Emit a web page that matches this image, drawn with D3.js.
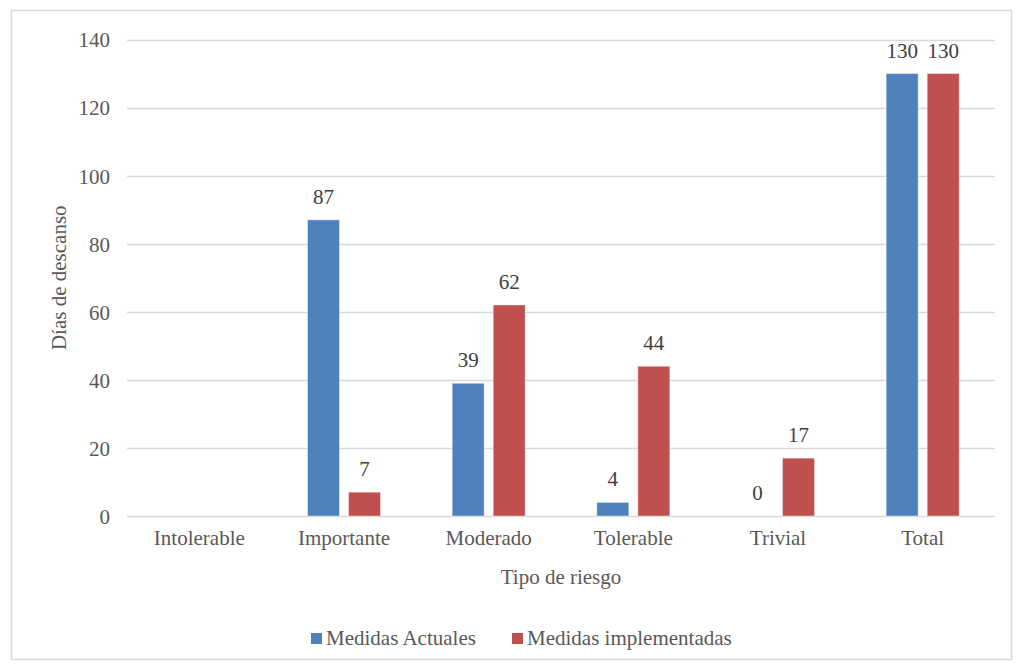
<!DOCTYPE html>
<html><head><meta charset="utf-8">
<script src="https://cdn.jsdelivr.net/npm/d3@7"></script>
<style>body{margin:0;background:#fff}svg{display:block}text{font-family:"Liberation Serif","Times New Roman",serif}</style>
</head><body><svg id="c" width="1018" height="664"></svg>
<script>
const categories = ["Intolerable","Importante","Moderado","Tolerable","Trivial","Total"];
const seriesNames = ["Medidas Actuales","Medidas implementadas"];
const actuales = [null, 87, 39, 4, 0, 130];
const implementadas = [null, 7, 62, 44, 17, 130];
const yTicks = [0,20,40,60,80,100,120,140];
const colors = ["#4F81BD","#C0504D"];

const svg = d3.select("#c");
const m = {l:127, r:995, t:39.5, b:516};
const txt = "#595959";
const fs = 21;

svg.append("rect").attr("x",11.5).attr("y",10.5).attr("width",1000).attr("height",649)
  .attr("fill","#fff").attr("stroke","#d9d9d9").attr("stroke-width",1.5);

const x0 = d3.scaleBand().domain(categories).range([m.l,m.r]).paddingInner(0).paddingOuter(0);
const x1 = d3.scaleBand().domain(seriesNames).range([0,x0.bandwidth()]).paddingInner(0.22).paddingOuter(0.873);
const y = d3.scaleLinear().domain([0,140]).range([m.b,m.t]);

// gridlines
svg.append("g").selectAll("line").data(yTicks).join("line")
  .attr("x1",m.l).attr("x2",m.r).attr("y1",d=>Math.round(y(d))+0.5).attr("y2",d=>Math.round(y(d))+0.5)
  .attr("stroke","#d9d9d9").attr("stroke-width",1.5);

// y axis labels
const yAxis = d3.axisLeft(y).tickValues(yTicks).tickSize(0).tickPadding(0);
const ya = svg.append("g").attr("transform",`translate(${110},0)`).call(yAxis);
ya.select(".domain").remove();
ya.selectAll("text").attr("font-size",fs).attr("fill",txt).attr("dy","0.35em");

// x axis labels
const xAxis = d3.axisBottom(x0).tickSize(0).tickPadding(0);
const xa = svg.append("g").attr("transform",`translate(0,${m.b+29})`).call(xAxis);
xa.select(".domain").remove();
xa.selectAll("text").attr("font-size",fs).attr("fill",txt).attr("dy","0");

const data = categories.map((c,i)=>({c, vals:[actuales[i],implementadas[i]]}));
const groups = svg.append("g").selectAll("g").data(data).join("g")
  .attr("transform",d=>`translate(${x0(d.c)},0)`);
groups.selectAll("rect").data(d=>d.vals.map((v,j)=>({v,s:seriesNames[j],j})).filter(e=>e.v!==null))
  .join("rect")
  .attr("x",e=>x1(e.s)).attr("width",x1.bandwidth())
  .attr("y",e=>y(e.v)).attr("height",e=>m.b-y(e.v))
  .attr("fill",e=>colors[e.j]).attr("stroke","#fff").attr("stroke-opacity",0.5).attr("stroke-width",0.8);
groups.selectAll("text").data(d=>d.vals.map((v,j)=>({v,s:seriesNames[j],j})).filter(e=>e.v!==null))
  .join("text")
  .attr("x",e=>x1(e.s)+x1.bandwidth()/2).attr("y",e=>y(e.v)-16)
  .attr("text-anchor","middle").attr("font-size",fs).attr("fill","#404040").text(e=>e.v);

// axis titles
svg.append("text").attr("x",(m.l+m.r)/2).attr("y",584).attr("text-anchor","middle")
  .attr("font-size",fs).attr("fill",txt).text("Tipo de riesgo");
svg.append("text").attr("transform",`translate(66,${(m.t+m.b)/2}) rotate(-90)`).attr("text-anchor","middle")
  .attr("font-size",fs).attr("fill",txt).text("Días de descanso");

// legend
const legX = [311,512];
const lg = svg.append("g").selectAll("g").data(seriesNames).join("g")
  .attr("transform",(d,i)=>`translate(${legX[i]},633)`);
lg.append("rect").attr("width",11).attr("height",11).attr("fill",(d,i)=>colors[i]);
lg.append("text").attr("x",15).attr("y",11.5).attr("font-size",fs).attr("fill",txt).text(d=>d);
</script></body></html>
